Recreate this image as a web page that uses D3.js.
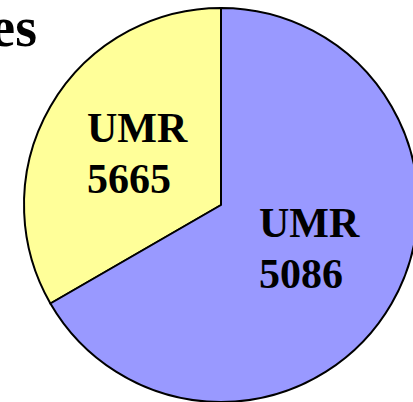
<!DOCTYPE html>
<html>
<head>
<meta charset="utf-8">
<script src="https://cdn.jsdelivr.net/npm/d3@7"></script>
<style>
  body { margin: 0; background: #fff; }
  svg { display: block; }
  text { font-family: "Liberation Serif", "Times New Roman", serif; font-weight: bold; fill: #000; }
</style>
</head>
<body>
<script>
var labels = ["UMR 5665", "UMR 5086"];
var values = [1, 2];
var colors = ["#ffff99", "#9999ff"];

var width = 413, height = 402;
var cx = 221, cy = 205, radius = 197;

var svg = d3.select("body").append("svg")
    .attr("width", width)
    .attr("height", height);

// clipped title text, only the end shows
svg.append("text")
    .attr("x", 37)
    .attr("y", 46)
    .attr("text-anchor", "end")
    .style("font-size", "56px")
    .text("es");

var g = svg.append("g")
    .attr("transform", "translate(" + cx + "," + cy + ")");

var data = labels.map(function(d, i){ return {label: d, value: values[i], color: colors[i]}; });

// yellow slice first: from 12 o'clock going counterclockwise
var pie = d3.pie()
    .value(function(d){ return d.value; })
    .sort(null)
    .startAngle(0)
    .endAngle(-2 * Math.PI);

var arc = d3.arc().innerRadius(0).outerRadius(radius);

g.selectAll("path")
  .data(pie(data))
  .enter()
    .append("path")
    .attr("d", arc)
    .attr("fill", function(d){ return d.data.color; })
    .attr("stroke", "#000")
    .attr("stroke-width", 2)
    .attr("stroke-linejoin", "round");

// labels, left aligned, two lines
var labelPos = [[-134, -63], [38, 32]];
g.selectAll("text.lbl")
  .data(pie(data))
  .enter()
    .append("text")
    .attr("class", "lbl")
    .attr("x", function(d, i){ return labelPos[i][0]; })
    .attr("y", function(d, i){ return labelPos[i][1]; })
    .style("font-size", "42px")
    .each(function(d){
      var parts = d.data.label.split(" ");
      var t = d3.select(this);
      parts.forEach(function(p, j){
        t.append("tspan")
          .attr("x", t.attr("x"))
          .attr("dy", j === 0 ? 0 : 51)
          .text(p);
      });
    });
</script>
</body>
</html>
